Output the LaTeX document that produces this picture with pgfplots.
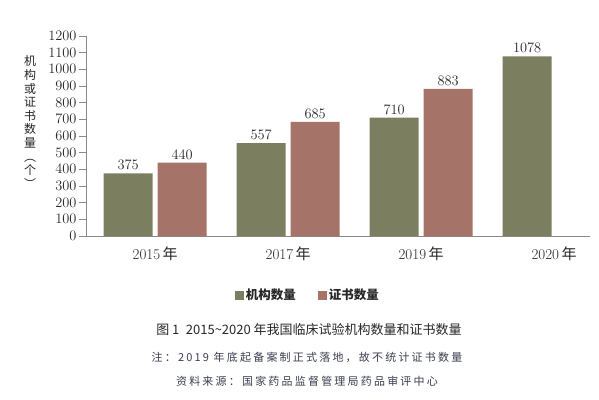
\documentclass[border=0pt]{standalone}
\usepackage{fontspec}
\usepackage{pgfplots}
\pgfplotsset{compat=1.18}
\newfontfamily\cjk{Noto Sans CJK SC}
\newfontfamily\cjkspaced[LetterSpace=20]{Noto Sans CJK SC}
\definecolor{olivebar}{HTML}{7B7F60}
\definecolor{redbar}{HTML}{A67368}
\definecolor{axisgray}{HTML}{8A8A8A}
\definecolor{notecol}{HTML}{3A3D4E}
\begin{document}
\begin{tikzpicture}[x=1pt,y=1pt]
\useasboundingbox (0,0) rectangle (599,399);
\begin{axis}[
  at={(86pt,163pt)}, anchor=south west,
  scale only axis, width=504pt, height=200pt,
  xmin=-0.52, xmax=3.27, ymin=0, ymax=1200,
  ytick={0,100,...,1200},
  xtick={0,1,2,3},
  xticklabels={2015\,{\cjk 年},2017\,{\cjk 年},2019\,{\cjk 年},2020\,{\cjk 年}},
  /pgf/number format/1000 sep={},
  axis x line*=bottom, axis y line*=left,
  axis line style={axisgray, line width=0.9pt},
  y axis line style={-}, x axis line style={-},
  tick align=outside,
  major tick length=7pt,
  ytick style={axisgray, line width=0.8pt},
  xtick style={draw=none},
  ticklabel style={font=\fontsize{15}{17}\selectfont, text=black!85},
  yticklabel style={xshift=1pt},
  ylabel={机\\构\\或\\证\\书\\数\\量\\︵\\个\\︶},
  ylabel style={rotate=-90, align=center, at={(axis description cs:-0.111,0.57)}, anchor=center,
    font=\cjk\fontsize{12}{13.6}\selectfont, text=black!85},
  ybar, bar width=49pt,
  nodes near coords,
  every node near coord/.append style={font=\fontsize{15.5}{17}\selectfont, text=black!85},
  legend columns=2,
  legend style={at={(0.44,-0.295)}, anchor=center, draw=none, fill=none,
    font=\cjk\bfseries\fontsize{12.5}{14}\selectfont, text=black!85,
    /tikz/every even column/.append style={column sep=20pt}},
  legend image code/.code={\fill[#1] (0pt,-4.5pt) rectangle (9pt,4.5pt);},
]
\addplot[fill=olivebar, draw=none, bar shift=-27pt] coordinates {(0,375) (1,557) (2,710) (3,1078)};
\addplot[fill=redbar, draw=none, bar shift=27pt] coordinates {(0,440) (1,685) (2,883)};
\legend{机构数量,证书数量}
\end{axis}
\node[font=\cjk\fontsize{13}{15}\selectfont, text=black!85] at (309,69) {图 1\enspace 2015{\char"007E}2020 年我国临床试验机构数量和证书数量};
\node[font=\cjkspaced\fontsize{11}{13}\selectfont, text=notecol] at (307,42) {注：2019 年底起备案制正式落地，故不统计证书数量};
\node[font=\cjkspaced\fontsize{11}{13}\selectfont, text=notecol] at (307,18) {资料来源：国家药品监督管理局药品审评中心};
\end{tikzpicture}
\end{document}
